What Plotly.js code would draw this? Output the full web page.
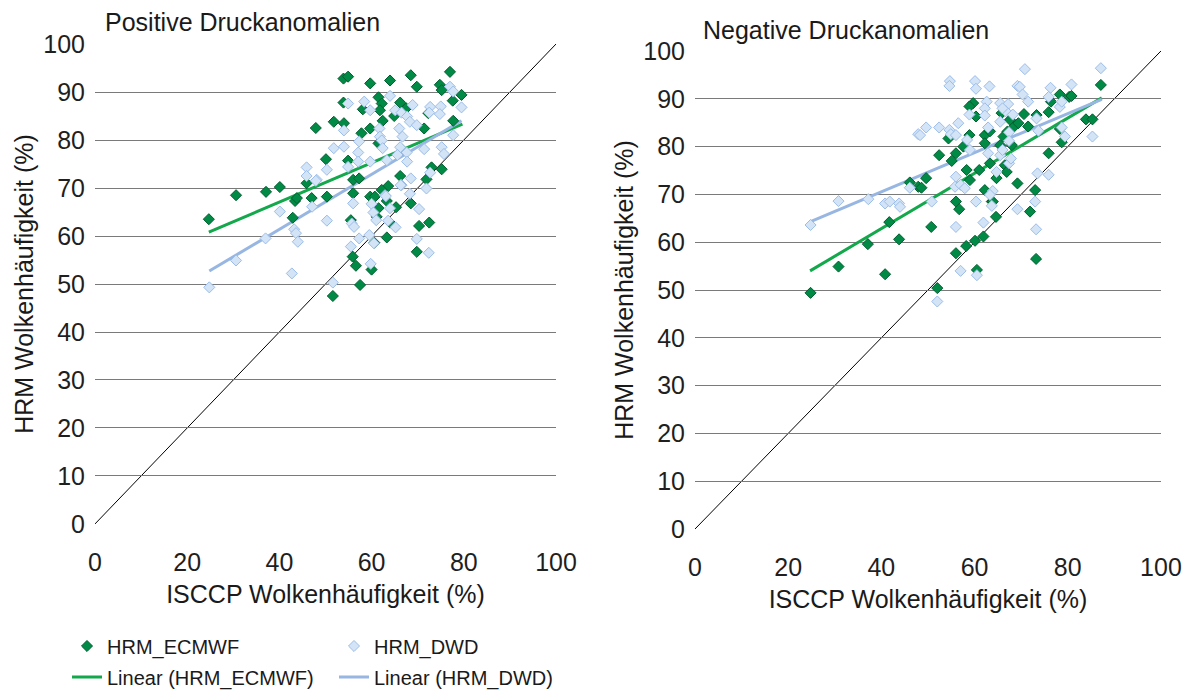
<!DOCTYPE html>
<html>
<head>
<meta charset="utf-8">
<script src="https://cdn.plot.ly/plotly-3.0.1.min.js"></script>
<style>
  html, body { margin: 0; padding: 0; background: #fff; }
  #chart { width: 1196px; height: 690px; }
</style>
</head>
<body>
<div id="chart"></div>
<script>
// Positive Druckanomalien – HRM_ECMWF
const posEcmwfX = [24.7,30.6,37.1,40.1,43.4,43.8,42.9,47,45.9,47.9,53.9,54.9,59.7,64,68.5,69.8,77,74.8,75.2,79.5,
  77.6,53.9,61.5,62.2,61.8,58.1,66.2,67.5,64.9,72.3,51.8,54,62.4,59.7,57.8,71.4,77.7,61.5,66.7,50.1,
  54.9,56,57.3,66.2,71.9,73,75.2,50.3,56,59.7,60.7,63.6,62.2,63.3,65.3,68.5,61.5,55.5,61.1,64,
  70.3,72.5,63.3,69.8,55.9,56.6,60,57.5,51.6,60.6];
const posEcmwfY = [63.5,68.5,69.2,70.2,67.3,67.9,63.8,67.9,71.0,82.5,92.8,93.2,91.8,92.4,93.5,91.1,94.2,91.5,90.4,89.4,
  88.2,87.8,88.9,87.6,86.2,86.4,87.8,86.6,85,85.6,83.8,83.5,84,82.4,81.4,82.4,84,79.3,77.9,76,
  75.7,71.7,72,72.5,71.8,74.3,73.9,68.2,68.9,68.2,68.2,70.4,69.6,67.3,66,66.8,65.8,63.3,64,62.8,
  62.1,62.8,59.7,56.7,55.7,53.8,53,49.8,47.5,58.6];

// Positive Druckanomalien – HRM_DWD
const posDwdX = [24.8,30.6,37,40.1,42.7,43.2,43.6,44,47.1,48.1,45.9,45.9,47.9,54.9,58.4,64,59.7,65.1,66.5,68.9,
  72.7,75,74.8,77,77.7,79.5,67.7,68.3,72.5,54,61.7,66,69.8,61.8,66.7,57.3,62.2,77.7,51.8,54,
  62.4,66.2,71.4,75.2,57.1,67.6,75.7,50.3,54.9,57.1,59.7,63.3,65.6,67.7,68.5,66.5,72.7,71.9,62.9,66.3,
  68.3,63.1,56,60,50.3,55.7,56.2,60.4,61,63.6,64,65.2,70.3,59.5,60.5,57.3,55.5,69.8,72.4,59.8,51.6];
const posDwdY = [49.3,54.9,59.5,65.1,52.2,61.4,60.6,58.8,66.1,71.7,74.3,72.5,71.5,87.6,88,89.2,86.2,86.2,85.7,87.3,
  86.9,87,85.4,91.1,90.1,86.8,84.9,83.8,85.7,82,82.4,82.4,83.1,80.7,80.7,79.7,79.9,81,78.3,78.6,
  78.3,78.5,78.1,78.5,77.4,77.4,77.1,73.8,74.4,75.5,75.5,75.8,76.9,75.5,72,70.6,73.2,69.9,68.5,70.6,
  68.8,68.3,66.8,66.7,63.2,62.6,61.9,64.9,63.3,63.2,65.8,61.8,65.6,60.2,58.5,59.5,57.8,59.4,56.5,54.2,50.3];

// Negative Druckanomalien – HRM_ECMWF
const negEcmwfX = [24.8,30.8,37.1,43.8,40.8,41.7,46.1,47.9,59.7,58.9,60.3,52.4,56,55.1,58.9,54.4,57.6,62.2,62.2,63.3,
  65.8,67.6,68.5,69.4,67,66.2,65.5,68,70.6,71.5,73.3,75.9,76.4,78.3,80.3,78.3,78.7,75.9,58.3,61,
  63.3,66.5,66.9,64.7,49.6,48.6,56,62.2,69.2,73,59,63.7,87.1,80.8,83.9,85.3,56.7,63.9,50.7,64.6,
  71.9,61.9,60.1,58.2,56,60.5,73.2,52];
const negEcmwfY = [49.4,54.9,59.6,60.6,53.3,64.2,72.5,71.6,89.1,88.4,86.3,78.2,78.6,77,82.4,81.7,80,82.4,80.7,83.2,
  87,85.6,84.2,84.9,83.1,82.1,80.3,80.3,86.8,84.2,86.6,87.2,89.4,90.9,90.4,83.7,80.9,78.6,75.1,75.1,
  76.5,76.1,74.7,73.4,73.4,71.4,68.5,70.9,72.3,70.9,73,68.5,92.9,90.6,85.7,85.7,66.9,68.5,63.2,65.3,
  66.4,61.2,60.3,59.2,57.7,54.2,56.5,50.4];

// Negative Druckanomalien – HRM_DWD
const negDwdX = [24.8,30.8,37.2,40.8,41.8,43.8,46.1,47.9,44,70.8,54.7,54.6,60.1,60.3,63.2,69.2,69.7,76.3,75.9,70.3,
  78.3,78.7,71.5,62.6,62.2,65.5,67.2,66.7,58.9,62.2,66,68.2,65.5,73.3,49.6,52.4,54.6,54.9,56,56.5,
  62.9,67.4,73.7,79.4,58.4,59,62.9,65.5,66,67.4,67.4,67.8,64.7,56,55.8,57,57.9,63.9,63.3,73.5,
  75.9,73,60.3,50.8,48.3,87.1,80.8,78.7,85.3,63.7,69.2,56,61.9,73.2,57,60.5,52];
const negDwdY = [63.6,68.6,69,68.1,68.5,68.1,71.4,82.6,67.4,96.2,93.7,92.7,93.7,92.1,92.6,92.7,92.5,92.3,90.4,90.9,
  88.3,89.4,89.4,89.4,88,89.1,88.9,87.4,86.7,86.5,88,86.7,85.2,85.9,84,84,83.5,82.6,82.4,84.9,
  84,83,83.3,82.1,81.4,79.3,78.6,78.2,79.3,81.2,76.5,77.5,74.7,73.7,71.6,72,71.3,70.7,69.9,74.4,
  74.1,68.5,68.5,68.5,82.4,96.4,93,84,82.1,67.6,66.9,63.2,64.1,62.7,54,53.1,47.6];

// Linear trend lines (start / end)
const posTrendEcmwfX = [24.7, 79.7], posTrendEcmwfY = [60.8, 83.3];
const posTrendDwdX   = [24.8, 79.5], posTrendDwdY   = [52.7, 84.0];
const negTrendEcmwfX = [24.7, 87.3], negTrendEcmwfY = [54.0, 90.2];
const negTrendDwdX   = [24.8, 87.3], negTrendDwdY   = [64.3, 89.9];

const panelTitles = ['Positive Druckanomalien', 'Negative Druckanomalien'];
const xTitle = 'ISCCP Wolkenhäufigkeit (%)';
const yTitle = 'HRM Wolkenhäufigkeit (%)';
const nameEcmwf = 'HRM_ECMWF', nameDwd = 'HRM_DWD';
const nameLinEcmwf = 'Linear (HRM_ECMWF)', nameLinDwd = 'Linear (HRM_DWD)';

const FONT = 'Liberation Sans, Arial, sans-serif';
const greenFill = '#008a45', greenEdge = '#005e2e';
const blueFill = '#d3e4f7', blueEdge = '#9cbde8';
const greenLine = '#12a84b', blueLine = '#98b6e2';

function scatter(x, y, name, fill, edge, xa, ya, show, lg) {
  return {
    type: 'scatter', mode: 'markers', x, y, name, xaxis: xa, yaxis: ya,
    showlegend: show, legend: lg, cliponaxis: false,
    marker: { symbol: 'diamond', size: 8.5, color: fill, line: { color: edge, width: 1 } }
  };
}
function trend(x, y, name, color, xa, ya, show, lg) {
  return {
    type: 'scatter', mode: 'lines', x, y, name, xaxis: xa, yaxis: ya,
    showlegend: show, legend: lg,
    line: { color, width: 3 }
  };
}

const data = [
  trend(posTrendEcmwfX, posTrendEcmwfY, nameLinEcmwf, greenLine, 'x', 'y', true, 'legend2'),
  trend(posTrendDwdX, posTrendDwdY, nameLinDwd, blueLine, 'x', 'y', true, 'legend2'),
  scatter(posEcmwfX, posEcmwfY, nameEcmwf, greenFill, greenEdge, 'x', 'y', true, 'legend'),
  scatter(posDwdX, posDwdY, nameDwd, blueFill, blueEdge, 'x', 'y', true, 'legend'),
  trend(negTrendEcmwfX, negTrendEcmwfY, nameLinEcmwf, greenLine, 'x2', 'y2', false, 'legend2'),
  trend(negTrendDwdX, negTrendDwdY, nameLinDwd, blueLine, 'x2', 'y2', false, 'legend2'),
  scatter(negEcmwfX, negEcmwfY, nameEcmwf, greenFill, greenEdge, 'x2', 'y2', false, 'legend'),
  scatter(negDwdX, negDwdY, nameDwd, blueFill, blueEdge, 'x2', 'y2', false, 'legend')
];

const tickFont = { family: FONT, size: 25, color: '#1f1f1f' };
const titleFont = { family: FONT, size: 25, color: '#1a1a1a' };

function xaxis(domain, anchor) {
  return {
    domain, anchor, range: [0, 100], tick0: 0, dtick: 20, showgrid: false, zeroline: false,
    showline: false, ticks: '', tickfont: tickFont, ticklabelstandoff: 21,
    title: { text: xTitle, font: titleFont, standoff: 10 }
  };
}
function yaxis(domain, anchor) {
  return {
    domain, anchor, range: [0, 100], tick0: 0, dtick: 10, showgrid: true,
    gridcolor: '#7a7a7a', gridwidth: 1, zeroline: false, showline: false, ticks: '',
    tickfont: tickFont, ticklabelstandoff: 9,
    title: { text: yTitle, font: titleFont, standoff: 2 }
  };
}

const legendFont = { family: FONT, size: 20, color: '#1a1a1a' };

const layout = {
  width: 1196, height: 690,
  margin: { l: 0, r: 0, t: 0, b: 0, autoexpand: false },
  paper_bgcolor: '#ffffff', plot_bgcolor: '#ffffff',
  font: { family: FONT, color: '#1a1a1a' },
  xaxis: xaxis([0.0794, 0.4649], 'y'),
  yaxis: yaxis([0.2406, 0.9362], 'x'),
  xaxis2: xaxis([0.5811, 0.9707], 'y2'),
  yaxis2: yaxis([0.2333, 0.9261], 'x2'),
  shapes: [
    { type: 'line', xref: 'x', yref: 'y', x0: 0, y0: 0, x1: 100, y1: 100, line: { color: '#000', width: 1 }, layer: 'below' },
    { type: 'line', xref: 'x2', yref: 'y2', x0: 0, y0: 0, x1: 100, y1: 100, line: { color: '#000', width: 1 }, layer: 'below' }
  ],
  annotations: [
    { text: panelTitles[0], xref: 'paper', yref: 'paper', x: 103 / 1196, y: 1 - 22 / 690,
      xanchor: 'left', yanchor: 'middle', showarrow: false, font: { family: FONT, size: 25, color: '#1a1a1a' } },
    { text: panelTitles[1], xref: 'paper', yref: 'paper', x: 701 / 1196, y: 1 - 30 / 690,
      xanchor: 'left', yanchor: 'middle', showarrow: false, font: { family: FONT, size: 25, color: '#1a1a1a' } }
  ],
  legend: {
    orientation: 'h', x: 67 / 1196, xanchor: 'left', y: 1 - 646 / 690, yanchor: 'middle',
    entrywidth: 222, entrywidthmode: 'pixels', bgcolor: 'rgba(0,0,0,0)', font: legendFont
  },
  legend2: {
    orientation: 'h', x: 67 / 1196, xanchor: 'left', y: 1 - 677 / 690, yanchor: 'middle',
    entrywidth: 222, entrywidthmode: 'pixels', bgcolor: 'rgba(0,0,0,0)', font: legendFont
  }
};

Plotly.newPlot('chart', data, layout, { staticPlot: true, displayModeBar: false });
</script>
</body>
</html>
